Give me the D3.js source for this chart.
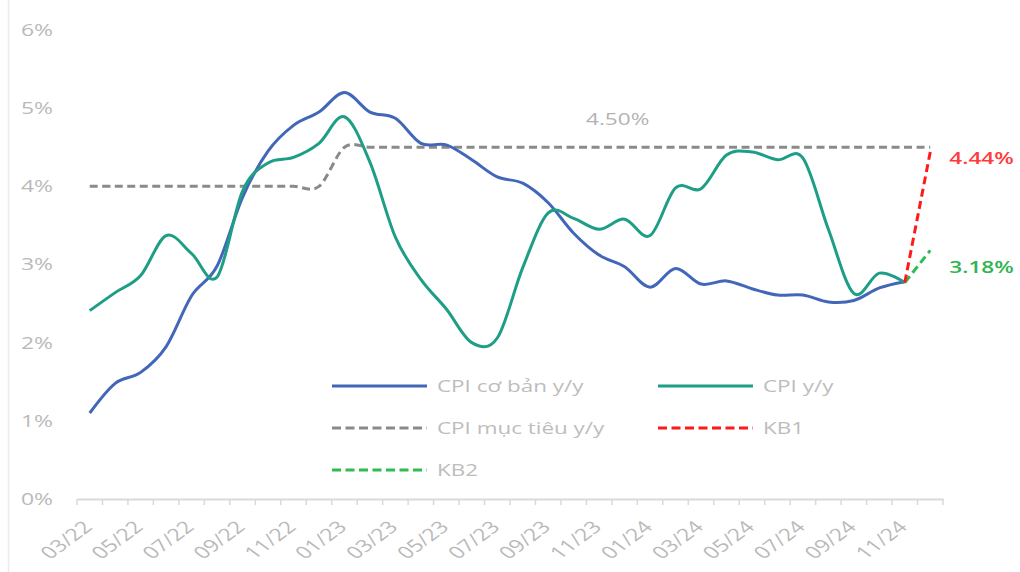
<!DOCTYPE html>
<html>
<head>
<meta charset="utf-8">
<script src="https://cdnjs.cloudflare.com/ajax/libs/d3/7.8.5/d3.min.js"></script>
<style>
    body { margin: 0; background: #fff; }
    svg { display: block; font-family: "Open Sans", sans-serif; }
</style>
</head>
<body>
<div id="chart"></div>
<script>
/* global d3 */

var months = ['03/22', '04/22', '05/22', '06/22', '07/22', '08/22', '09/22', '10/22', '11/22', '12/22',
    '01/23', '02/23', '03/23', '04/23', '05/23', '06/23', '07/23', '08/23', '09/23', '10/23', '11/23', '12/23',
    '01/24', '02/24', '03/24', '04/24', '05/24', '06/24', '07/24', '08/24', '09/24', '10/24', '11/24', '12/24'];

// CPI co ban y/y, 03/22 -> 11/24
var coreCpi = [1.10, 1.48, 1.62, 1.95, 2.60, 2.98, 3.86, 4.45, 4.78, 4.95,
    5.20, 4.95, 4.87, 4.55, 4.53, 4.34, 4.12, 4.04, 3.79, 3.40, 3.12, 2.97,
    2.71, 2.95, 2.75, 2.79, 2.69, 2.61, 2.61, 2.52, 2.54, 2.70, 2.78];

// CPI y/y, 03/22 -> 11/24
var cpi = [2.41, 2.64, 2.86, 3.37, 3.14, 2.84, 3.94, 4.30, 4.37, 4.55,
    4.89, 4.31, 3.35, 2.81, 2.43, 2.00, 2.06, 2.96, 3.66, 3.59, 3.45, 3.58,
    3.37, 3.98, 3.97, 4.40, 4.44, 4.34, 4.36, 3.45, 2.63, 2.89, 2.77];

// CPI muc tieu y/y, 03/22 -> 12/24
var targetCpi = [4.0, 4.0, 4.0, 4.0, 4.0, 4.0, 4.0, 4.0, 4.0, 4.0,
    4.5, 4.5, 4.5, 4.5, 4.5, 4.5, 4.5, 4.5, 4.5, 4.5, 4.5, 4.5,
    4.5, 4.5, 4.5, 4.5, 4.5, 4.5, 4.5, 4.5, 4.5, 4.5, 4.5, 4.5];

// scenarios 11/24 -> 12/24
var kbMonths = ['11/24', '12/24'];
var kb1 = [2.77, 4.44];
var kb2 = [2.77, 3.18];

var yTicks = [0, 1, 2, 3, 4, 5, 6];

var width = 1020, height = 572;
var sx = 1.35; // picture is stretched sideways, text too

var svg = d3.select('#chart').append('svg')
        .attr('width', width)
        .attr('height', height);

// faint frame edge on the left
svg.append('line')
        .attr('x1', 8.5).attr('x2', 8.5)
        .attr('y1', 0).attr('y2', height)
        .attr('stroke', '#ebebeb')
        .attr('stroke-width', 1.5);

var x = d3.scaleBand()
        .domain(months)
        .range([77, 943])
        .padding(0);

var y = d3.scaleLinear()
        .domain([0, 6])
        .range([499, 30]);

function cx(m) {
    return x(m) + x.bandwidth() / 2;
}

function series(labels, values) {
    return values.map(function (v, i) {
        return {m: labels[i], v: v};
    });
}

var line = d3.line()
        .x(function (d) { return cx(d.m); })
        .y(function (d) { return y(d.v); })
        .curve(d3.curveCardinal.tension(0));

// y labels
svg.append('g')
        .selectAll('text')
        .data(yTicks)
        .enter()
        .append('text')
        .attr('transform', function (d) {
            return 'translate(53,' + y(d) + ') scale(' + sx + ',1)';
        })
        .attr('dy', '0.35em')
        .attr('text-anchor', 'end')
        .attr('fill', '#b9b9b9')
        .style('font-size', '17px')
        .text(function (d) { return d + '%'; });

// x axis
var xAxis = svg.append('g')
        .attr('transform', 'translate(0,' + y(0) + ')')
        .call(d3.axisBottom(x)
                .tickSize(0)
                .tickSizeOuter(0)
                .tickFormat(function (d, i) { return i % 2 === 0 ? d : ''; }));

xAxis.select('.domain')
        .attr('stroke', '#d9d9d9')
        .attr('stroke-width', 2);

xAxis.selectAll('text')
        .attr('x', 0)
        .attr('y', 0)
        .attr('dy', '0.35em')
        .attr('text-anchor', 'end')
        .attr('transform', 'translate(-2,25) scale(' + sx + ',1) rotate(-45)')
        .attr('fill', '#b9b9b9')
        .style('font-size', '17px')
        .style('font-family', '"Open Sans", sans-serif');

var bounds = months.map(function (m) { return x(m); }).concat([x.range()[1]]);
xAxis.selectAll('line.bound')
        .data(bounds)
        .enter()
        .append('line')
        .attr('class', 'bound')
        .attr('x1', function (d) { return d; })
        .attr('x2', function (d) { return d; })
        .attr('y1', 0)
        .attr('y2', 6)
        .attr('stroke', '#d9d9d9')
        .attr('stroke-width', 1.5);

// lines
var lines = [
    {data: series(months, targetCpi), color: '#8a8a8a', dash: '8,4.5'},
    {data: series(months, coreCpi), color: '#4267b8', dash: null},
    {data: series(months, cpi), color: '#1e9e86', dash: null},
    {data: series(kbMonths, kb2), color: '#2fbb52', dash: '8,4.5'},
    {data: series(kbMonths, kb1), color: '#ff1a1a', dash: '8,4.5'}
];

svg.append('g')
        .selectAll('path')
        .data(lines)
        .enter()
        .append('path')
        .attr('d', function (d) { return line(d.data); })
        .attr('fill', 'none')
        .attr('stroke', function (d) { return d.color; })
        .attr('stroke-width', 3)
        .attr('stroke-dasharray', function (d) { return d.dash; })
        .attr('stroke-linejoin', 'round');

// value labels
var notes = [
    {text: '4.50%', x: 586, y: y(4.5) - 28, color: '#b3b3b3', weight: 400},
    {text: '4.44%', x: cx('12/24') + 19, y: y(kb1[1]) + 6, color: '#ff3b3b', weight: 600},
    {text: '3.18%', x: cx('12/24') + 19, y: y(kb2[1]) + 17, color: '#2eb450', weight: 600}
];

svg.append('g')
        .selectAll('text')
        .data(notes)
        .enter()
        .append('text')
        .attr('transform', function (d) {
            return 'translate(' + d.x + ',' + d.y + ') scale(' + 1.33 + ',1)';
        })
        .attr('dy', '0.35em')
        .attr('fill', function (d) { return d.color; })
        .style('font-weight', function (d) { return d.weight; })
        .style('font-size', '17px')
        .text(function (d) { return d.text; });

// legend
var legendItems = [
    {label: 'CPI cơ bản y/y', color: '#4267b8', dash: null, col: 0, row: 0},
    {label: 'CPI y/y', color: '#1e9e86', dash: null, col: 1, row: 0},
    {label: 'CPI mục tiêu y/y', color: '#8a8a8a', dash: '9,4.5', col: 0, row: 1},
    {label: 'KB1', color: '#ff1a1a', dash: '9,4.5', col: 1, row: 1},
    {label: 'KB2', color: '#2fbb52', dash: '9,4.5', col: 0, row: 2}
];

var legend = svg.append('g')
        .selectAll('g')
        .data(legendItems)
        .enter()
        .append('g')
        .attr('transform', function (d) {
            return 'translate(' + (332 + d.col * 326) + ',' + (386 + d.row * 42) + ')';
        });

legend.append('line')
        .attr('x1', 0).attr('x2', 95)
        .attr('y1', 0).attr('y2', 0)
        .attr('stroke', function (d) { return d.color; })
        .attr('stroke-width', 3)
        .attr('stroke-dasharray', function (d) { return d.dash; });

legend.append('text')
        .attr('transform', 'translate(105,0) scale(1.32,1)')
        .attr('dy', '0.35em')
        .attr('fill', '#bdbdbd')
        .style('font-size', '17px')
        .text(function (d) { return d.label; });
</script>
</body>
</html>
